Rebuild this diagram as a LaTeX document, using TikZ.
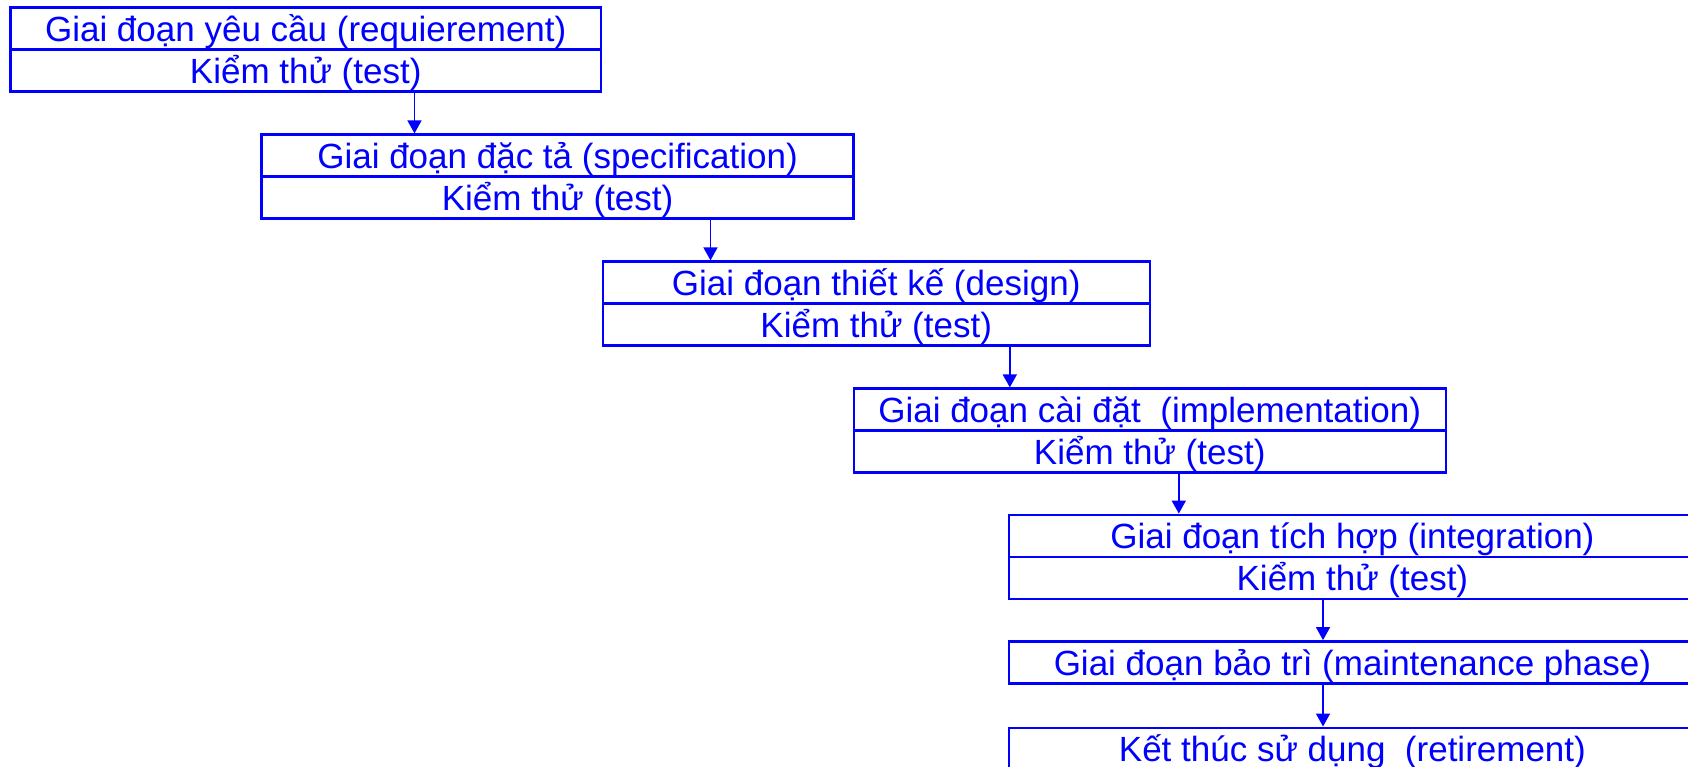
\documentclass[tikz,border=0pt]{standalone}
\usepackage{fontspec}
\setmainfont{Liberation Sans}
\usetikzlibrary{arrows.meta}
\definecolor{lineblue}{RGB}{0,0,255}
\begin{document}
\begin{tikzpicture}[x=1pt,y=-1pt,
  row/.style={draw=lineblue, line width=2.4pt, inner sep=0pt,
    minimum height=42pt, text=lineblue,
    font=\fontsize{35}{40}\selectfont, text height=25.5pt, text depth=0pt},
  flow/.style={draw=lineblue, line width=1.6pt,
    -{Triangle[length=13pt,width=14pt]}}
]
\clip (0,0) rectangle (1688,767);

% requirement phase
\node[row, minimum width=590.5pt] (r1a) at (305.75,28.5) {Giai đoạn yêu cầu (requierement)};
\node[row, minimum width=590.5pt] (r1b) at (305.75,70.5) {Kiểm thử (test)};
% specification phase
\node[row, minimum width=592pt] (r2a) at (557.6,155.6) {Giai đoạn đặc tả (specification)};
\node[row, minimum width=592pt] (r2b) at (557.6,197.6) {Kiểm thử (test)};
% design phase
\node[row, minimum width=547pt] (r3a) at (876.2,282.6) {Giai đoạn thiết kế (design)};
\node[row, minimum width=547pt] (r3b) at (876.2,324.6) {Kiểm thử (test)};
% implementation phase
\node[row, minimum width=592pt] (r4a) at (1149.7,409.6) {Giai đoạn cài đặt~ (implementation)};
\node[row, minimum width=592pt] (r4b) at (1149.7,451.6) {Kiểm thử (test)};
% integration phase
\node[row, minimum width=687.3pt] (r5a) at (1352.4,535.8) {Giai đoạn tích hợp (integration)};
\node[row, minimum width=687.3pt] (r5b) at (1352.4,577.8) {Kiểm thử (test)};
% maintenance and retirement
\node[row, minimum width=687.3pt] (r6) at (1352.4,662.3) {Giai đoạn bảo trì (maintenance phase)};
\node[row, minimum width=687.3pt] (r7) at (1352.4,748.7) {Kết thúc sử dụng~ (retirement)};

% arrow columns
\coordinate (c1) at (414.5,0);
\coordinate (c2) at (710.5,0);
\coordinate (c3) at (1009.8,0);
\coordinate (c4) at (1178.8,0);
\coordinate (c5) at (1323,0);

\draw[flow] (r1b.south -| c1) -- (r2a.north -| c1);
\draw[flow] (r2b.south -| c2) -- (r3a.north -| c2);
\draw[flow] (r3b.south -| c3) -- (r4a.north -| c3);
\draw[flow] (r4b.south -| c4) -- (r5a.north -| c4);
\draw[flow] (r5b.south -| c5) -- (r6.north -| c5);
\draw[flow] (r6.south -| c5) -- (r7.north -| c5);
\end{tikzpicture}
\end{document}
